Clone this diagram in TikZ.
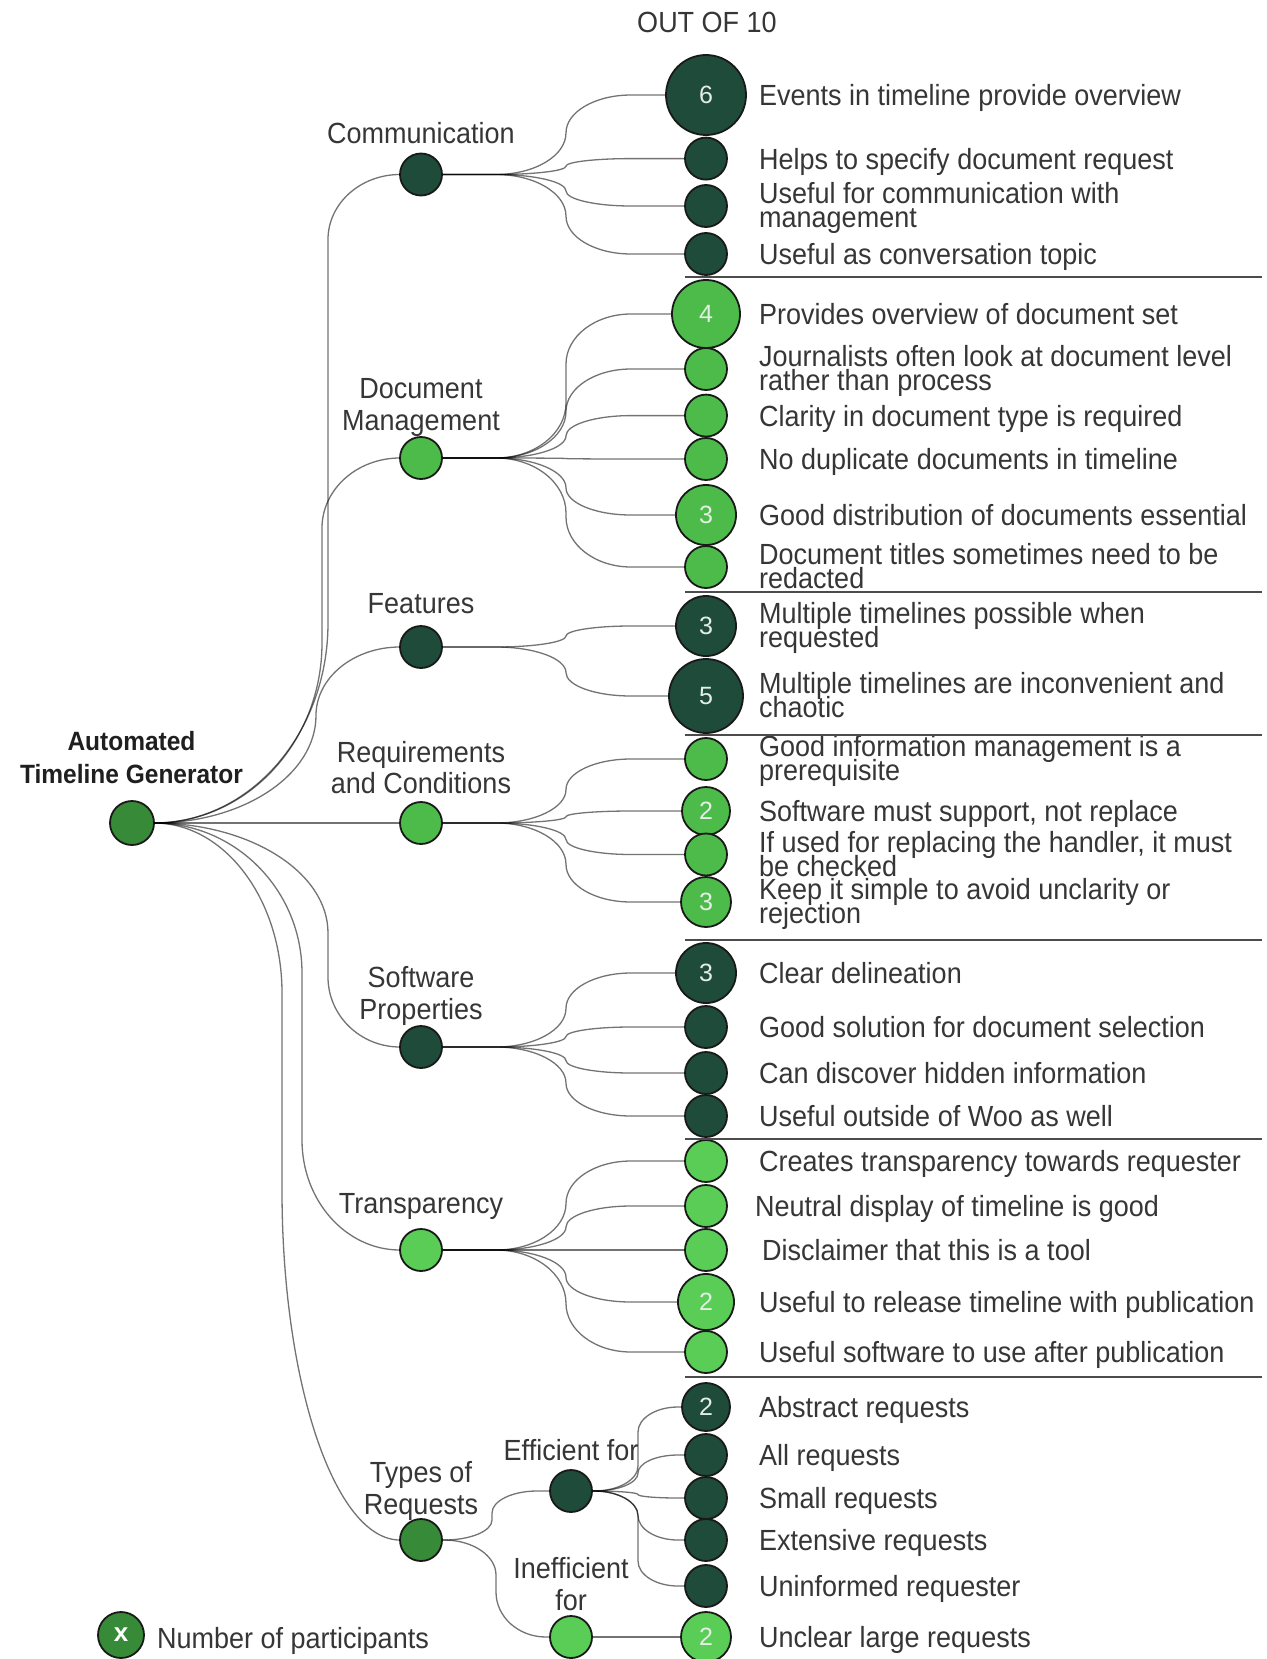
\documentclass[tikz,border=0pt]{standalone}
\usepackage{fontspec}
\setmainfont{Liberation Sans}
\usetikzlibrary{calc}

\definecolor{darkg}{HTML}{1E4B3A}
\definecolor{midg}{HTML}{378A37}
\definecolor{lightg}{HTML}{4DBB4A}
\definecolor{brightg}{HTML}{5ACD57}
\definecolor{ink}{HTML}{363636}
\definecolor{numc}{HTML}{E4EEE4}

% slightly tall lettering
\newcommand\tall[1]{\scalebox{1}[1.08]{#1}}
% two stacked lines with a fixed baseline distance; the box baseline is the first line
\newcommand\twoL[3]{\vtop{\baselineskip=#1\lineskiplimit=-\maxdimen\lineskip=0pt\halign{##\hfil\cr \tall{#2}\cr \tall{#3}\cr}}}
\newcommand\twoC[3]{\vtop{\baselineskip=#1\lineskiplimit=-\maxdimen\lineskip=0pt\halign{\hfil##\hfil\cr \tall{#2}\cr \tall{#3}\cr}}}

% rounded orthogonal connector: source, target, x of the vertical run,
% first corner width, first corner height, second corner height, second corner width
\newcommand\joinnodes[7]{%
  \draw[conn] let \p1=(#1.east), \p2=(#2.west),
      \n1={min(#5, abs((\y2)-(\y1))/(#5+#6)*#5)},
      \n2={min(#6, abs((\y2)-(\y1))/(#5+#6)*#6)},
      \n3={((\y2)>(\y1)) ? 1 : -1} in
    (\p1) -- ({#3pt-#4pt},\y1)
    .. controls ({#3pt-0.448*#4pt},\y1) and (#3pt,{\y1+0.448*\n3*\n1}) .. (#3pt,{\y1+\n3*\n1})
    -- (#3pt,{\y2-\n3*\n2})
    .. controls (#3pt,{\y2-0.448*\n3*\n2}) and ({#3pt+0.448*#7pt},\y2) .. ({#3pt+#7pt},\y2)
    -- (\p2);}
\newcommand\leafedge[2]{\joinnodes{#1}{#2}{566}{70}{55}{50}{65}}
\newcommand\reqedge[2]{\joinnodes{#1}{#2}{638}{44}{25}{25}{40}}

\begin{document}
\begin{tikzpicture}[x=1pt,y=-1pt,
  dot/.style={circle, draw=black!90, line width=1.8pt, fill=#1, inner sep=0pt,
    minimum size=42pt, text=numc, font=\fontsize{25}{25}\selectfont},
  conn/.style={draw=black, draw opacity=0.55, line width=1.3pt},
  sepline/.style={draw=black!70, line width=1.6pt},
  leaf1/.style={anchor=base west, inner sep=0pt, text=ink,
    font=\fontsize{27}{24}\selectfont, yshift=-10.4pt},
  leaf2/.style={anchor=base west, inner sep=0pt, text=ink,
    font=\fontsize{27}{24}\selectfont, yshift=2.3pt},
  midlabel/.style={anchor=base, inner sep=0pt, text=ink,
    font=\fontsize{27}{32}\selectfont},
]
\fill[white] (0,0) rectangle (1266,1659);
\useasboundingbox (0,0) rectangle (1266,1659);

% heading
\node[midlabel] (head) at (707,33) {\tall{OUT OF 10}};

% root
\node[dot=midg, minimum size=44pt] (root) at (132,823) {};
\node[anchor=base, inner sep=0pt, text=black!88,
  font=\bfseries\fontsize{24.5}{33}\selectfont] (rootlabel) at (131.5,750)
  {\twoC{33pt}{Automated}{Timeline Generator}};

% categories
\node[dot=darkg]   (comm)  at (421,174.5) {};
\node[dot=lightg]  (docm)  at (421,458) {};
\node[dot=darkg]   (feat)  at (421,647) {};
\node[dot=lightg]  (reqs)  at (421,823) {};
\node[dot=darkg]   (soft)  at (421,1047) {};
\node[dot=brightg] (trans) at (421,1250) {};
\node[dot=midg]    (types) at (421,1540) {};
\node[dot=darkg]   (eff)   at (571,1491) {};
\node[dot=brightg] (ineff) at (571,1637) {};

\node[midlabel] (lcomm)  at (421,143)  {\tall{Communication}};
\node[midlabel] (ldocm)  at (421,398)  {\twoC{32pt}{Document}{Management}};
\node[midlabel] (lfeat)  at (421,613)  {\tall{Features}};
\node[midlabel] (lreqs)  at (421,762)  {\twoC{31pt}{Requirements}{and Conditions}};
\node[midlabel] (lsoft)  at (421,987)  {\twoC{32pt}{Software}{Properties}};
\node[midlabel] (ltrans) at (421,1213) {\tall{Transparency}};
\node[midlabel] (ltypes) at (421,1482) {\twoC{32pt}{Types of}{Requests}};
\node[midlabel] (leff)   at (571,1460) {\tall{Efficient for}};
\node[midlabel] (lineff) at (571,1578) {\twoC{32pt}{Inefficient}{for}};

% Communication
\node[dot=darkg, minimum size=80pt] (c1) at (706,95) {6};
\node[dot=darkg] (c2) at (706,158.6) {};
\node[dot=darkg] (c3) at (706,206) {};
\node[dot=darkg] (c4) at (706,254) {};
\node[leaf1] (tc1) at (759,95) {\tall{Events in timeline provide overview}};
\node[leaf1] (tc2) at (759,158.6) {\tall{Helps to specify document request}};
\node[leaf2] (tc3) at (759,206) {\twoL{24pt}{Useful for communication with}{management}};
\node[leaf1] (tc4) at (759,254) {\tall{Useful as conversation topic}};

% Document Management
\node[dot=lightg, minimum size=68pt] (d1) at (706,314) {4};
\node[dot=lightg] (d2) at (706,369) {};
\node[dot=lightg] (d3) at (706,415.6) {};
\node[dot=lightg] (d4) at (706,459) {};
\node[dot=lightg, minimum size=60pt] (d5) at (706,515) {3};
\node[dot=lightg] (d6) at (706,567) {};
\node[leaf1] (td1) at (759,314) {\tall{Provides overview of document set}};
\node[leaf2] (td2) at (759,369) {\twoL{24pt}{Journalists often look at document level}{rather than process}};
\node[leaf1] (td3) at (759,415.6) {\tall{Clarity in document type is required}};
\node[leaf1] (td4) at (759,459) {\tall{No duplicate documents in timeline}};
\node[leaf1] (td5) at (759,515) {\tall{Good distribution of documents essential}};
\node[leaf2] (td6) at (759,567) {\twoL{24pt}{Document titles sometimes need to be}{redacted}};

% Features
\node[dot=darkg, minimum size=60pt] (f1) at (706,626) {3};
\node[dot=darkg, minimum size=74pt] (f2) at (706,696) {5};
\node[leaf2] (tf1) at (759,626) {\twoL{24pt}{Multiple timelines possible when}{requested}};
\node[leaf2] (tf2) at (759,696) {\twoL{24pt}{Multiple timelines are inconvenient and}{chaotic}};

% Requirements and Conditions
\node[dot=lightg] (r1) at (706,759) {};
\node[dot=lightg, minimum size=48pt] (r2) at (706,811) {2};
\node[dot=lightg] (r3) at (706,854.5) {};
\node[dot=lightg, minimum size=50pt] (r4) at (706,902) {3};
\node[leaf2] (tr1) at (759,759) {\twoL{24pt}{Good information management is a}{prerequisite}};
\node[leaf1] (tr2) at (759,811) {\tall{Software must support, not replace}};
\node[leaf2] (tr3) at (759,854.5) {\twoL{24pt}{If used for replacing the handler, it must}{be checked}};
\node[leaf2] (tr4) at (759,902) {\twoL{24pt}{Keep it simple to avoid unclarity or}{rejection}};

% Software Properties
\node[dot=darkg, minimum size=60pt] (s1) at (706,973) {3};
\node[dot=darkg] (s2) at (706,1027) {};
\node[dot=darkg] (s3) at (706,1073) {};
\node[dot=darkg] (s4) at (706,1116) {};
\node[leaf1] (ts1) at (759,973) {\tall{Clear delineation}};
\node[leaf1] (ts2) at (759,1027) {\tall{Good solution for document selection}};
\node[leaf1] (ts3) at (759,1073) {\tall{Can discover hidden information}};
\node[leaf1] (ts4) at (759,1116) {\tall{Useful outside of Woo as well}};

% Transparency
\node[dot=brightg] (t1) at (706,1161) {};
\node[dot=brightg] (t2) at (706,1206) {};
\node[dot=brightg] (t3) at (706,1250) {};
\node[dot=brightg, minimum size=56pt] (t4) at (706,1302) {2};
\node[dot=brightg] (t5) at (706,1352) {};
\node[leaf1] (tt1) at (759,1161) {\tall{Creates transparency towards requester}};
\node[leaf1] (tt2) at (755,1206) {\tall{Neutral display of timeline is good}};
\node[leaf1] (tt3) at (762,1250) {\tall{Disclaimer that this is a tool}};
\node[leaf1] (tt4) at (759,1302) {\tall{Useful to release timeline with publication}};
\node[leaf1] (tt5) at (759,1352) {\tall{Useful software to use after publication}};

% Types of Requests
\node[dot=darkg, minimum size=48pt] (e1) at (706,1407) {2};
\node[dot=darkg] (e2) at (706,1455) {};
\node[dot=darkg] (e3) at (706,1498) {};
\node[dot=darkg] (e4) at (706,1540) {};
\node[dot=darkg] (e5) at (706,1586) {};
\node[dot=brightg, minimum size=50pt] (i1) at (706,1637) {2};
\node[leaf1] (te1) at (759,1407) {\tall{Abstract requests}};
\node[leaf1] (te2) at (759,1455) {\tall{All requests}};
\node[leaf1] (te3) at (759,1498) {\tall{Small requests}};
\node[leaf1] (te4) at (759,1540) {\tall{Extensive requests}};
\node[leaf1] (te5) at (759,1586) {\tall{Uninformed requester}};
\node[leaf1] (ti1) at (759,1637) {\tall{Unclear large requests}};

% legend
\node[dot=midg, minimum size=46pt, font=\bfseries\fontsize{26}{26}\selectfont, text=white] (key) at (121,1635) {x};
\node[anchor=base west, inner sep=0pt, text=ink, font=\fontsize{27}{27}\selectfont]
  (keytext) at (157,1648) {\tall{Number of participants}};

% group separators
\foreach \yy in {277,592,735,940,1139,1377}
  \draw[sepline] (685,\yy) -- (1262,\yy);

% root to categories
\joinnodes{root}{comm}{328}{174}{200}{65}{72}
\joinnodes{root}{docm}{322}{168}{180}{70}{78}
\joinnodes{root}{feat}{316}{162}{110}{70}{84}
\draw[conn] (root.east) -- (reqs.west);
\joinnodes{root}{soft}{328}{174}{110}{70}{72}
\joinnodes{root}{trans}{302}{148}{150}{110}{98}
\joinnodes{root}{types}{282}{128}{170}{350}{118}

% categories to statements
\foreach \k in {c1,c2,c3,c4} {\leafedge{comm}{\k}}
\foreach \k in {d1,d2,d3,d4,d5,d6} {\leafedge{docm}{\k}}
\foreach \k in {f1,f2} {\leafedge{feat}{\k}}
\foreach \k in {r1,r2,r3,r4} {\leafedge{reqs}{\k}}
\foreach \k in {s1,s2,s3,s4} {\leafedge{soft}{\k}}
\foreach \k in {t1,t2,t3,t4,t5} {\leafedge{trans}{\k}}

% request types
\joinnodes{types}{eff}{492}{48}{20}{22}{45}
\joinnodes{types}{ineff}{496}{52}{35}{45}{50}
\foreach \k in {e1,e2,e3,e4,e5} {\reqedge{eff}{\k}}
\draw[conn] (ineff.east) -- (i1.west);
\end{tikzpicture}
\end{document}
